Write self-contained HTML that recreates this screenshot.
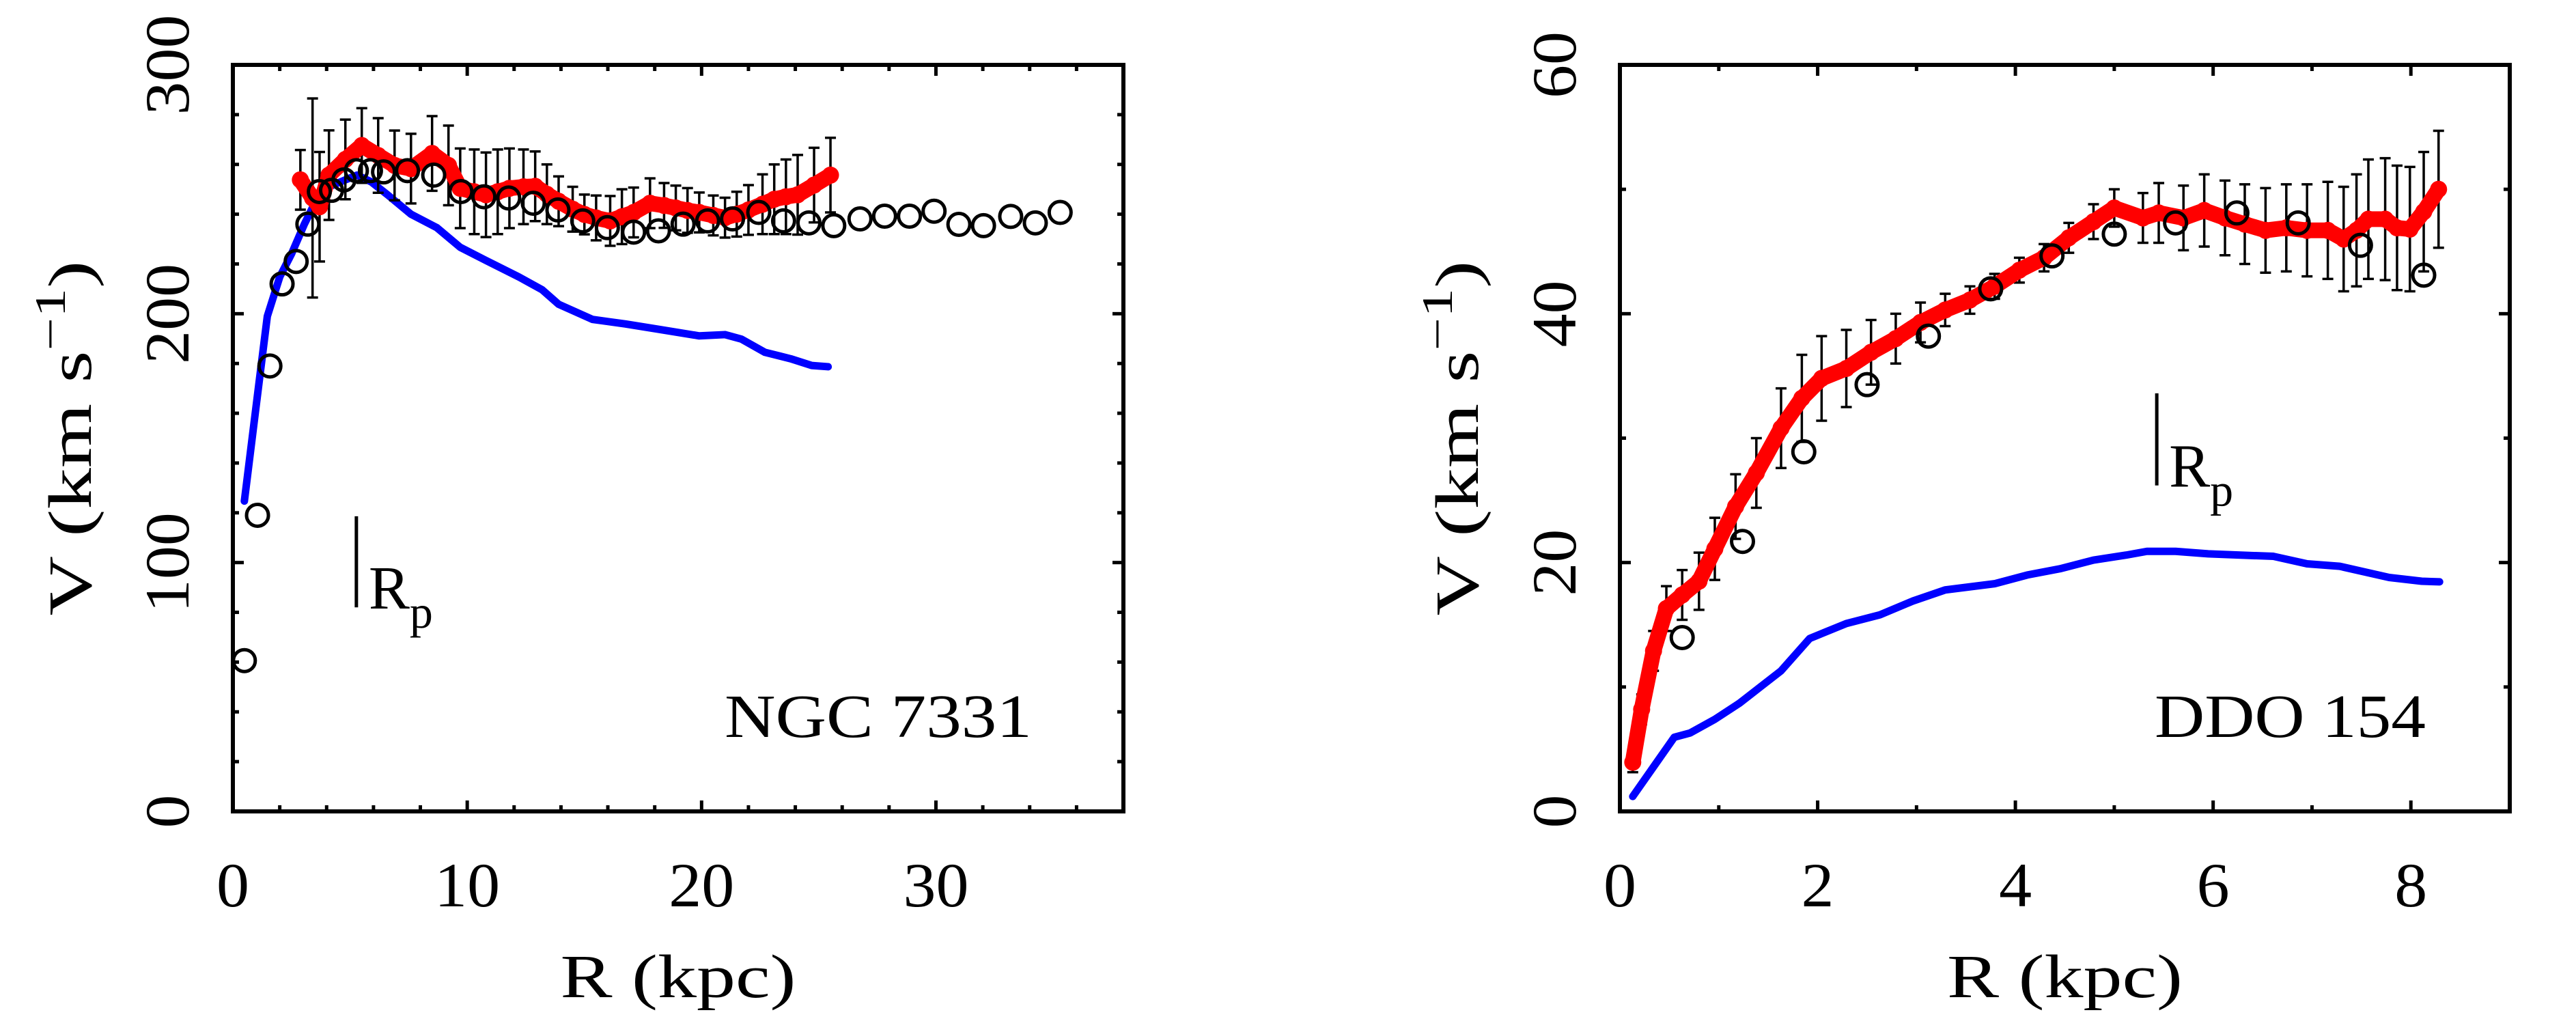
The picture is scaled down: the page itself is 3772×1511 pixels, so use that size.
<!DOCTYPE html>
<html><head><meta charset="utf-8">
<style>
html,body{margin:0;padding:0;background:#fff;}
svg{display:block;}
text{font-family:"Liberation Serif",serif;fill:#000;}
</style></head>
<body>
<svg id="chart" width="3772" height="1511" viewBox="0 0 3772 1511" xmlns="http://www.w3.org/2000/svg"></svg>
<script>
// ---------- NGC 7331 data ----------
const ngcObsR = [0.49,1.05,1.58,2.1,2.7,3.2,3.69,4.21,4.74,5.27,5.87,6.43,7.45,8.57,9.73,10.71,11.77,12.82,13.87,14.93,15.98,17.1,18.16,19.21,20.26,21.32,22.44,23.5,24.58,25.64,26.76,27.81,28.87,29.92,30.98,32.03,33.19,34.24,35.3];
const ngcObsV = [60.6,119,179,212,221,236,249.1,249.6,253.8,257.5,257.5,257,257.5,255.7,249.1,247,246.5,244.4,241.7,237.3,234.6,232.8,233.3,236,237.3,238.1,240.7,237.3,236.5,235.4,238.1,239.2,239.2,241.2,235.9,235.4,239.1,236.5,240.7];
const ngcModR = [2.88,3.4,3.7,4.1,4.8,5.5,6.2,6.9,7.6,8.5,9.2,9.7,10.3,10.8,11.3,11.8,12.4,12.9,13.4,13.9,14.5,15.0,15.5,16.1,16.6,17.1,17.8,18.4,18.9,19.4,19.9,20.5,21.0,21.5,22.0,22.6,23.1,23.6,24.1,24.8,25.5];
const ngcModV = [253.8,246.5,243,255.7,262,267.6,263.6,259.6,258.3,264.4,259.6,250.4,249,247.8,249,250.4,251,251.2,248,245.2,242,239.9,238.5,237.3,239,240.7,244.4,243.5,242.5,241.5,240.7,239.5,238.6,240,241.7,244,246,247,247.8,251.7,255.7];
const ngcModE = [12,40,22,18,16,15,15,14,14,15,16,16,17,17,17,16,15,14,12,10,9,8,9,10,11,10,10,9,9,9,8,8,8,9,10,12,14,15,16,15,15];
const ngcBarR = [0.49,0.77,1.12,1.47,2.0,2.5,3.05,3.6,4.1,4.8,5.3,5.9,6.6,7.6,8.7,9.7,10.8,12.2,13.2,13.9,15.35,16.75,18.2,19.9,21.0,21.7,22.7,23.8,24.7,25.4];
const ngcBarV = [124.7,146,172.6,199,214.8,224,236,246.5,251,253.8,255.7,253,247.8,240,234.6,226.7,221.4,214.8,209.6,203.8,197.7,195.9,193.7,191.1,191.6,189.8,184.5,181.9,179.2,178.7];
const ngcXTicks = [0,10,20,30];
const ngcYTicks = [0,100,200,300];

// ---------- DDO 154 data ----------
const ddoObsR = [0.63,1.24,1.86,2.5,3.12,3.75,4.37,5.0,5.62,6.24,6.86,7.49,8.13];
const ddoObsV = [13.97,21.7,28.9,34.3,38.2,42.0,44.65,46.4,47.3,48.1,47.3,45.5,43.1];
const ddoModR = [0.13,0.22,0.34,0.47,0.63,0.8,0.96,1.17,1.38,1.63,1.84,2.04,2.29,2.54,2.79,3.04,3.29,3.54,3.79,4.04,4.29,4.54,4.79,5.0,5.29,5.45,5.7,5.91,6.12,6.32,6.53,6.74,6.95,7.16,7.32,7.45,7.57,7.74,7.86,7.99,8.13,8.28];
const ddoModV = [3.95,8.2,12.9,16.3,17.4,18.5,21.1,24.5,27.2,30.8,33.2,34.8,35.6,36.9,38.0,39.3,40.3,41.1,42.2,43.5,44.5,46.1,47.4,48.5,47.7,48.1,47.7,48.3,47.7,47.2,46.7,46.9,46.7,46.7,46.0,46.7,47.6,47.6,46.9,46.8,48.2,50.0];
const ddoModE = [0.8,1.2,1.6,1.8,2.0,2.3,2.5,2.6,2.8,3.2,3.5,3.4,3.1,2.6,2.0,1.6,1.3,1.1,1.0,1.0,1.1,1.2,1.4,1.5,2.0,2.4,2.6,2.9,3.0,3.2,3.4,3.5,3.7,3.9,4.2,4.5,4.8,4.9,5.0,5.0,4.8,4.7];
const ddoBarR = [0.13,0.55,0.71,0.96,1.21,1.42,1.63,1.92,2.29,2.63,2.96,3.29,3.79,4.12,4.45,4.79,5.12,5.33,5.62,5.95,6.61,6.95,7.28,7.78,8.11,8.29];
const ddoBarV = [1.2,5.96,6.3,7.4,8.7,10.0,11.3,13.9,15.1,15.8,16.9,17.8,18.3,19.0,19.5,20.2,20.6,20.9,20.9,20.7,20.5,19.9,19.7,18.8,18.5,18.45];
const ddoXTicks = [0,2,4,6,8];
const ddoYTicks = [0,20,40,60];

const NS='http://www.w3.org/2000/svg';
const svg=document.getElementById('chart');
function mk(tag,attrs,parent){const e=document.createElementNS(NS,tag);for(const k in attrs)e.setAttribute(k,attrs[k]);(parent||svg).appendChild(e);return e;}

function panel(p){
  const g=mk('g',{});
  
  
  const X=v=>p.x0+(v-p.xmin)/(p.xmax-p.xmin)*(p.x1-p.x0);
  const Y=v=>p.y1-(v-p.ymin)/(p.ymax-p.ymin)*(p.y1-p.y0);
  const tg=mk('g',{stroke:'#000','stroke-width':5},g);
  
  
  for(let v=p.xmin;v<=p.xmax+1e-9;v+=p.xminor){
    const maj=Math.abs(v/p.xmajor-Math.round(v/p.xmajor))<1e-6;const L=maj?16:9;const x=X(v);
    mk('line',{x1:x,y1:p.y1,x2:x,y2:p.y1-L},tg);mk('line',{x1:x,y1:p.y0,x2:x,y2:p.y0+L},tg);
  }
  for(let v=p.ymin;v<=p.ymax+1e-9;v+=p.yminor){
    const maj=Math.abs(v/p.ymajor-Math.round(v/p.ymajor))<1e-6;const L=maj?16:9;const y=Y(v);
    mk('line',{x1:p.x0,y1:y,x2:p.x0+L,y2:y},tg);mk('line',{x1:p.x1,y1:y,x2:p.x1-L,y2:y},tg);
  }
  p.xt.forEach(v=>{const s=String(v);const t=mk('text',{x:X(v),y:1327,'font-size':92,'text-anchor':'middle',textLength:s.length*48,lengthAdjust:'spacingAndGlyphs'},g);t.textContent=s;
    });
  p.yt.forEach(v=>{const s=String(v);const t=mk('text',{x:0,y:0,'font-size':92,'text-anchor':'middle',textLength:s.length*49,lengthAdjust:'spacingAndGlyphs',transform:`translate(${p.x0-65},${Y(v)}) rotate(-90)`},g);t.textContent=s;
    });
  const xt=mk('text',{x:(p.x0+p.x1)/2,y:1460,'font-size':90,'text-anchor':'middle',textLength:345,lengthAdjust:'spacingAndGlyphs'},g);xt.textContent='R (kpc)';
  
  const yt=mk('text',{x:0,y:0,'font-size':90,'text-anchor':'middle',textLength:520,lengthAdjust:'spacingAndGlyphs',transform:`translate(${p.x0-208},${(p.y0+p.y1)/2}) rotate(-90)`},g);
  
  yt.appendChild(document.createTextNode('V  (km  s'));
  const sup=mk('tspan',{'font-size':64,dy:-38},yt);sup.textContent='\u22121';
  const cl=mk('tspan',{'font-size':90,dy:38},yt);cl.textContent=')';
  const bl=mk('polyline',{points:p.bR.map((r,i)=>X(r)+','+Y(p.bV[i])).join(' '),fill:'none',stroke:'#0000ff','stroke-width':11,'stroke-linejoin':'round','stroke-linecap':'round'},g);
  
  const eg=mk('g',{stroke:'#000','stroke-width':3.5},g);
  
  p.mR.forEach((r,i)=>{const x=X(r),a=Y(p.mV[i]+p.mE[i]),b=Y(p.mV[i]-p.mE[i]);
    mk('line',{x1:x,y1:a,x2:x,y2:b},eg);mk('line',{x1:x-8,y1:a,x2:x+8,y2:a},eg);mk('line',{x1:x-8,y1:b,x2:x+8,y2:b},eg);});
  const rl=mk('polyline',{points:p.mR.map((r,i)=>X(r)+','+Y(p.mV[i])).join(' '),fill:'none',stroke:'#ff0000','stroke-width':23,'stroke-linejoin':'round','stroke-linecap':'round'},g);
  
  p.mR.forEach((r,i)=>{const c=mk('circle',{cx:X(r),cy:Y(p.mV[i]),r:12.5,fill:'#ff0000'},g);
    });
  p.oR.forEach((r,i)=>{const c=mk('circle',{cx:X(r),cy:Y(p.oV[i]),r:16,fill:'none',stroke:'#000','stroke-width':5},g);
    });
  const fr=mk('rect',{x:p.x0,y:p.y0,width:p.x1-p.x0,height:p.y1-p.y0,fill:'none',stroke:'#000','stroke-width':6},g);
  
  const rp=mk('line',{x1:X(p.rpR),y1:Y(p.rpV1),x2:X(p.rpR),y2:Y(p.rpV0),stroke:'#000','stroke-width':5},g);
  
  const rpt=mk('text',{x:X(p.rpR)+18,y:Y(p.rpV0)+2,'font-size':90},g);
  
  rpt.appendChild(document.createTextNode('R'));
  const sub=mk('tspan',{'font-size':68,dy:28},rpt);sub.textContent='p';
  const nm=mk('text',{x:p.nameX,y:1079,'font-size':90,textLength:p.nameW,lengthAdjust:'spacingAndGlyphs'},g);nm.textContent=p.label;
  
}

panel({name:'ngc7331-panel',label:'NGC 7331',x0:341,x1:1645,y0:95,y1:1188,xmin:0,xmax:38,ymin:0,ymax:300,
  xmajor:10,xminor:2,ymajor:100,yminor:20,xt:ngcXTicks,yt:ngcYTicks,
  oR:ngcObsR,oV:ngcObsV,mR:ngcModR,mV:ngcModV,mE:ngcModE,bR:ngcBarR,bV:ngcBarV,
  rpR:5.27,rpV0:82,rpV1:118.6,nameX:1061,nameW:450});
panel({name:'ddo154-panel',label:'DDO 154',x0:2372,x1:3675,y0:95,y1:1188,xmin:0,xmax:9,ymin:0,ymax:60,
  xmajor:2,xminor:1,ymajor:20,yminor:10,xt:ddoXTicks,yt:ddoYTicks,
  oR:ddoObsR,oV:ddoObsV,mR:ddoModR,mV:ddoModV,mE:ddoModE,bR:ddoBarR,bV:ddoBarV,
  rpR:5.43,rpV0:26.2,rpV1:33.6,nameX:3155,nameW:397});
</script>
</body></html>
